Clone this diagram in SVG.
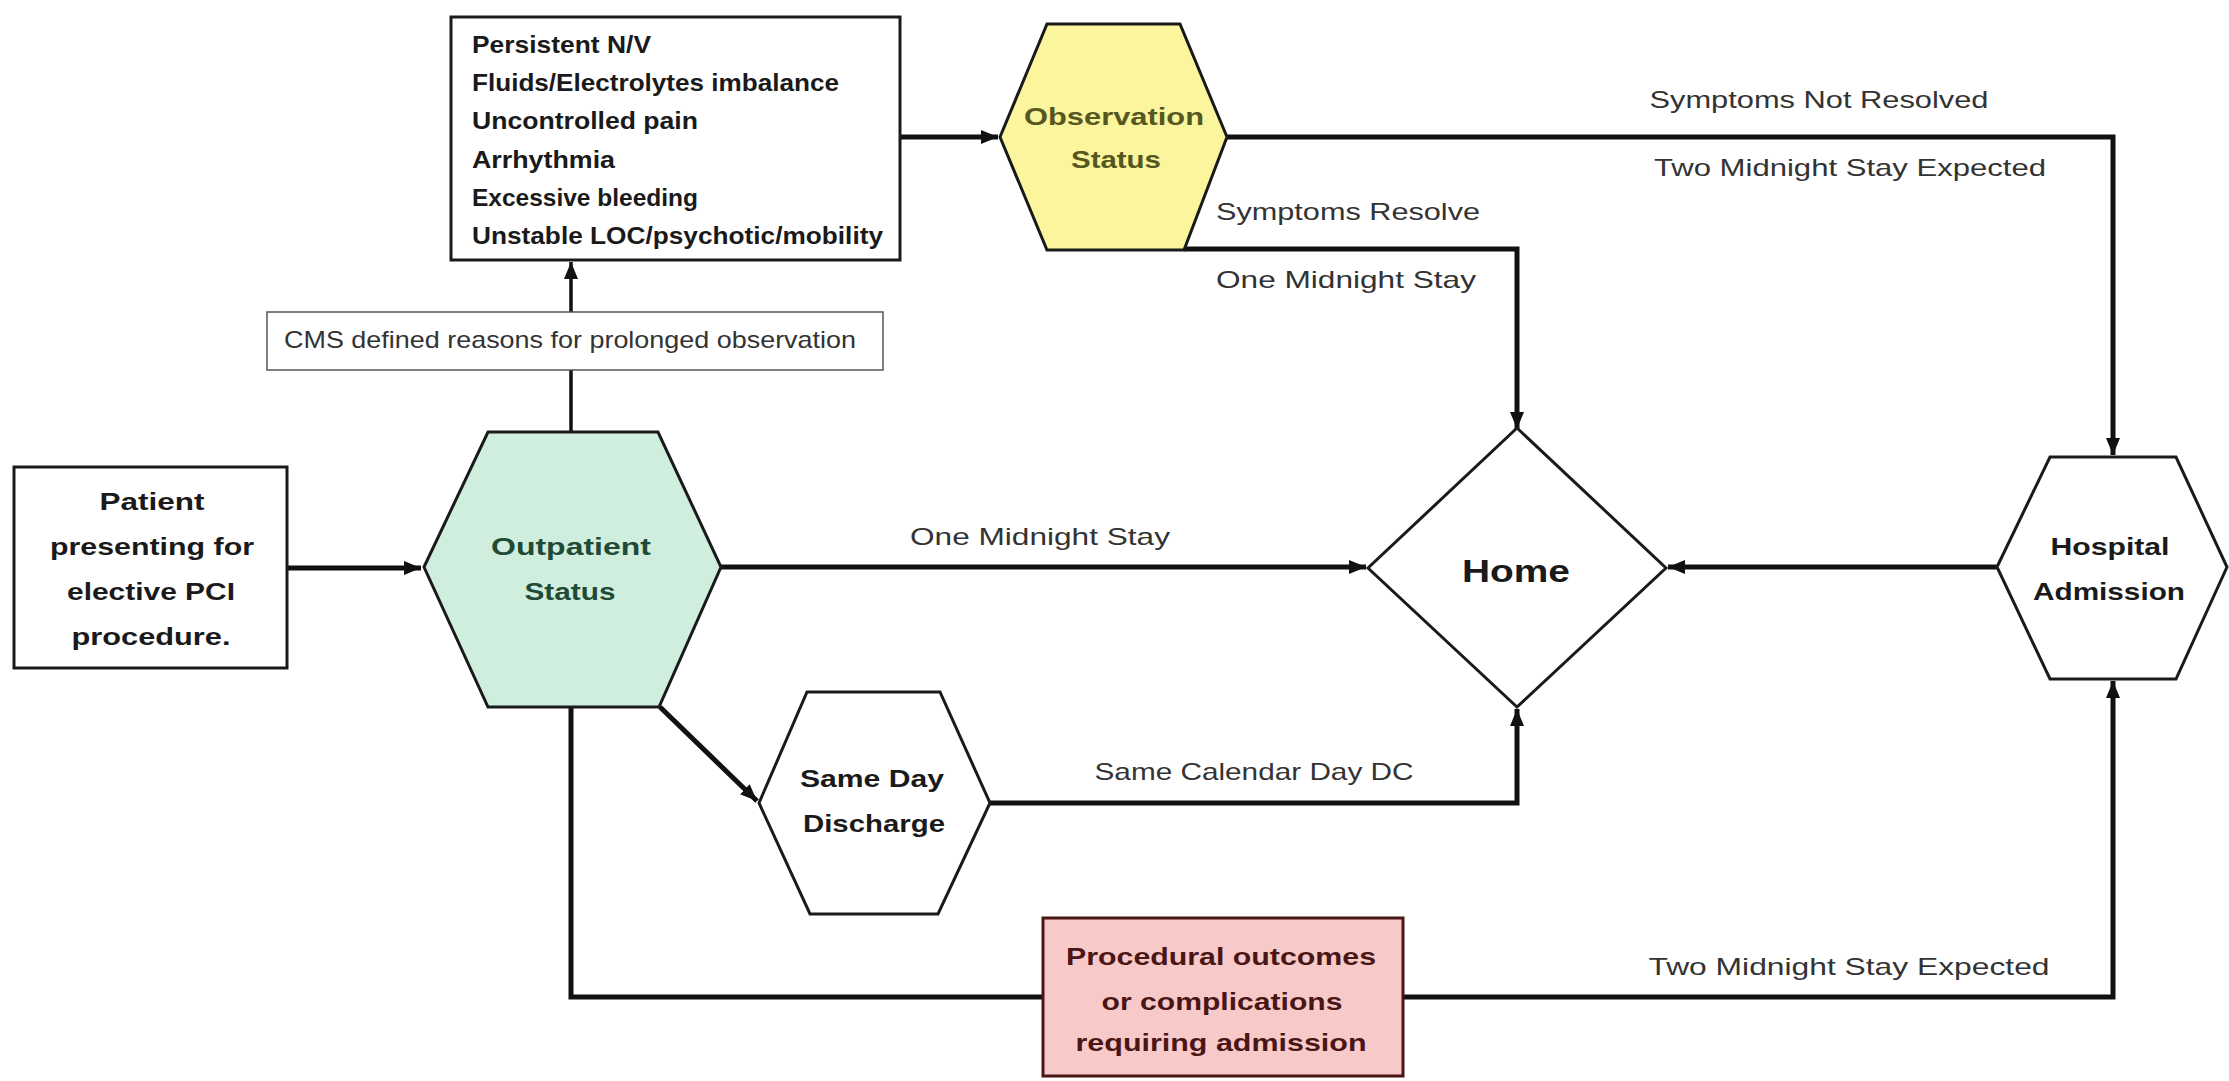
<svg xmlns="http://www.w3.org/2000/svg" width="2229" height="1081" viewBox="0 0 2229 1081">
<style>
  .bg{fill:#ffffff}
  .node{stroke:#1a1a1a;stroke-width:3;stroke-linejoin:miter}
  .plain{fill:#ffffff}
  .conn{fill:none;stroke:#111111;stroke-width:5}
  .thin{fill:none;stroke:#111111;stroke-width:3.5}
  .lbl{font-family:"Liberation Sans",Arial,sans-serif;font-size:24px;fill:#333333}
  .b{font-family:"Liberation Sans",Arial,sans-serif;font-size:24px;font-weight:bold;fill:#1a1a1a}
  .c{text-anchor:middle}
</style>
<defs>
  <marker id="ah" markerUnits="userSpaceOnUse" markerWidth="18" markerHeight="16" refX="17" refY="8" orient="auto">
    <path d="M0,1 L17,8 L0,15 z" fill="#111111"/>
  </marker>
</defs>
<rect class="bg" x="0" y="0" width="2229" height="1081"/>

<g id="connectors">
  <path class="conn" d="M287,568 H421" marker-end="url(#ah)"/>
  <path class="conn" d="M721,567 H1366" marker-end="url(#ah)"/>
  <path class="thin" d="M571,432 V370"/>
  <path class="thin" d="M571,312 V262" marker-end="url(#ah)"/>
  <path class="conn" d="M900,137 H998" marker-end="url(#ah)"/>
  <path class="conn" d="M1227,137 H2113 V455" marker-end="url(#ah)"/>
  <path class="conn" d="M1184,249 H1517 V429" marker-end="url(#ah)"/>
  <path class="conn" d="M660,707 L757,801" marker-end="url(#ah)"/>
  <path class="conn" d="M990,803 H1517 V709" marker-end="url(#ah)"/>
  <path class="conn" d="M1997,567 H1668" marker-end="url(#ah)"/>
  <path class="conn" d="M571,707 V997 H2113 V681" marker-end="url(#ah)"/>
</g>

<g id="edge-labels">
  <text class="lbl c" x="1819" y="108" textLength="339" lengthAdjust="spacingAndGlyphs">Symptoms Not Resolved</text>
  <text class="lbl c" x="1850" y="176" textLength="392" lengthAdjust="spacingAndGlyphs">Two Midnight Stay Expected</text>
  <text class="lbl" x="1216" y="220" textLength="264" lengthAdjust="spacingAndGlyphs">Symptoms Resolve</text>
  <text class="lbl" x="1216" y="288" textLength="260" lengthAdjust="spacingAndGlyphs">One Midnight Stay</text>
  <text class="lbl c" x="1040" y="545" textLength="260" lengthAdjust="spacingAndGlyphs">One Midnight Stay</text>
  <text class="lbl c" x="1254" y="780" textLength="319" lengthAdjust="spacingAndGlyphs">Same Calendar Day DC</text>
  <text class="lbl c" x="1849" y="975" textLength="401" lengthAdjust="spacingAndGlyphs">Two Midnight Stay Expected</text>
</g>

<g id="criteria">
  <rect class="node plain" x="451" y="17" width="449" height="243"/>
  <text class="b" x="472" y="53" textLength="179" lengthAdjust="spacingAndGlyphs">Persistent N/V</text>
  <text class="b" x="472" y="91" textLength="367" lengthAdjust="spacingAndGlyphs">Fluids/Electrolytes imbalance</text>
  <text class="b" x="472" y="129" textLength="226" lengthAdjust="spacingAndGlyphs">Uncontrolled pain</text>
  <text class="b" x="472" y="168" textLength="143" lengthAdjust="spacingAndGlyphs">Arrhythmia</text>
  <text class="b" x="472" y="206" textLength="226" lengthAdjust="spacingAndGlyphs">Excessive bleeding</text>
  <text class="b" x="472" y="244" textLength="411" lengthAdjust="spacingAndGlyphs">Unstable LOC/psychotic/mobility</text>
</g>

<g id="cms">
  <rect x="267" y="312" width="616" height="58" fill="#ffffff" stroke="#555555" stroke-width="1.5"/>
  <text class="lbl c" x="570" y="348" textLength="572" lengthAdjust="spacingAndGlyphs">CMS defined reasons for prolonged observation</text>
</g>

<g id="observation">
  <polygon class="node" fill="#fbf59d" points="1000,137 1047,24 1180,24 1227,137 1184,250 1047,250"/>
  <text class="b c" x="1114" y="125" fill="#56561f" style="fill:#56561f" textLength="180" lengthAdjust="spacingAndGlyphs">Observation</text>
  <text class="b c" x="1116" y="168" style="fill:#56561f" textLength="90" lengthAdjust="spacingAndGlyphs">Status</text>
</g>

<g id="patient">
  <rect class="node plain" x="14" y="467" width="273" height="201"/>
  <text class="b c" x="152" y="510" textLength="105" lengthAdjust="spacingAndGlyphs">Patient</text>
  <text class="b c" x="152" y="555" textLength="204" lengthAdjust="spacingAndGlyphs">presenting for</text>
  <text class="b c" x="151" y="600" textLength="168" lengthAdjust="spacingAndGlyphs">elective PCI</text>
  <text class="b c" x="151" y="645" textLength="159" lengthAdjust="spacingAndGlyphs">procedure.</text>
</g>

<g id="outpatient">
  <polygon class="node" fill="#cfeedd" points="424,567 488,432 658,432 721,567 659,707 488,707"/>
  <text class="b c" x="571" y="555" style="fill:#1f4a35" textLength="160" lengthAdjust="spacingAndGlyphs">Outpatient</text>
  <text class="b c" x="570" y="600" style="fill:#1f4a35" textLength="91" lengthAdjust="spacingAndGlyphs">Status</text>
</g>

<g id="home">
  <polygon class="node plain" points="1517,428 1666,568 1517,707 1368,568"/>
  <text class="b c" x="1516" y="582" style="font-size:31px" textLength="108" lengthAdjust="spacingAndGlyphs">Home</text>
</g>

<g id="hospital">
  <polygon class="node plain" points="1997,567 2050,457 2176,457 2227,567 2176,679 2050,679"/>
  <text class="b c" x="2110" y="555" textLength="119" lengthAdjust="spacingAndGlyphs">Hospital</text>
  <text class="b c" x="2109" y="600" textLength="152" lengthAdjust="spacingAndGlyphs">Admission</text>
</g>

<g id="sameday">
  <polygon class="node plain" points="759,803 807,692 940,692 990,803 938,914 810,914"/>
  <text class="b c" x="872" y="787" textLength="144" lengthAdjust="spacingAndGlyphs">Same Day</text>
  <text class="b c" x="874" y="832" textLength="142" lengthAdjust="spacingAndGlyphs">Discharge</text>
</g>

<g id="procedural">
  <rect x="1043" y="918" width="360" height="158" fill="#f8c9c9" stroke="#4a1515" stroke-width="3"/>
  <text class="b c" x="1221" y="965" style="fill:#4a1515" textLength="310" lengthAdjust="spacingAndGlyphs">Procedural outcomes</text>
  <text class="b c" x="1222" y="1010" style="fill:#4a1515" textLength="241" lengthAdjust="spacingAndGlyphs">or complications</text>
  <text class="b c" x="1221" y="1051" style="fill:#4a1515" textLength="291" lengthAdjust="spacingAndGlyphs">requiring admission</text>
</g>
</svg>
